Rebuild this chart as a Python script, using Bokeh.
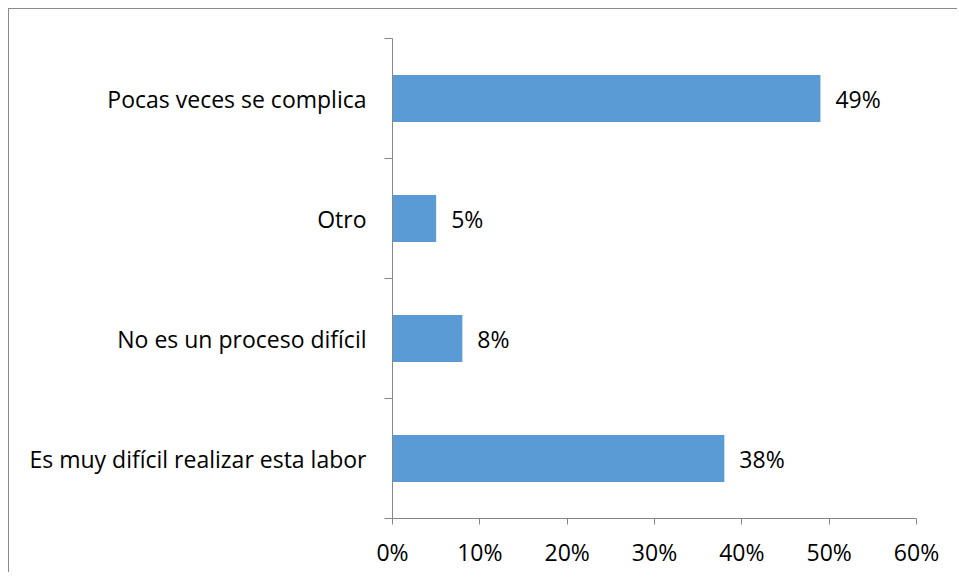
from bokeh.plotting import figure
from bokeh.models import FixedTicker, NumeralTickFormatter, Range1d, ColumnDataSource
from bokeh.core.properties import value
from bokeh.embed import file_html
from bokeh.resources import INLINE

categories = ["Es muy difícil realizar esta labor", "No es un proceso difícil", "Otro", "Pocas veces se complica"]
values = [0.38, 0.08, 0.05, 0.49]
value_labels = ["38%", "8%", "5%", "49%"]
x_ticks = [0.0, 0.1, 0.2, 0.3, 0.4, 0.5, 0.6]

FONT = "Open Sans"
FS = "23px"
AXIS_COLOR = "#868686"
BAR_COLOR = "#5B9BD5"

pos = [i + 0.5 for i in range(len(categories))]
src = ColumnDataSource(dict(y=pos, v=values, lab=value_labels))

p = figure(output_backend="svg", toolbar_location=None,
           frame_width=524, frame_height=480,
           min_border_left=383, min_border_right=41, min_border_top=29, min_border_bottom=54,
           x_range=Range1d(0, 0.6), y_range=Range1d(0, len(categories)))
p.styles = {"border-left": "1px solid #8a8a8a", "border-top": "1px solid #8a8a8a",
            "margin-left": "8px", "margin-top": "8px"}
p.outline_line_color = None
p.xgrid.grid_line_color = None
p.ygrid.grid_line_color = None
p.background_fill_color = "white"
p.border_fill_color = "white"

p.hbar(y="y", right="v", left=0, height=0.39, source=src, fill_color=BAR_COLOR, line_color=None)
p.text(x="v", y="y", text="lab", source=src, x_offset=15, text_baseline="middle", text_align="left",
       text_font=value(FONT), text_font_size=FS, text_color="black")

xa = p.xaxis[0]
xa.ticker = FixedTicker(ticks=x_ticks)
xa.formatter = NumeralTickFormatter(format="0%")
xa.axis_line_color = AXIS_COLOR
xa.major_tick_line_color = AXIS_COLOR
xa.major_tick_out = 6
xa.major_tick_in = 0
xa.minor_tick_line_color = None
xa.major_label_text_font = FONT
xa.major_label_text_font_size = FS
xa.major_label_text_color = "black"
xa.major_label_standoff = 11

ya = p.yaxis[0]
ya.ticker = FixedTicker(ticks=pos, minor_ticks=list(range(len(categories) + 1)))
ya.major_label_overrides = {v: c for v, c in zip(pos, categories)}
ya.axis_line_color = AXIS_COLOR
ya.major_tick_line_color = None
ya.major_tick_out = 0
ya.major_tick_in = 0
ya.minor_tick_line_color = AXIS_COLOR
ya.minor_tick_out = 8
ya.minor_tick_in = 0
ya.major_label_text_font = FONT
ya.major_label_text_font_size = FS
ya.major_label_text_color = "black"
ya.major_label_standoff = 18

open("out.html", "w").write(file_html(p, INLINE))
